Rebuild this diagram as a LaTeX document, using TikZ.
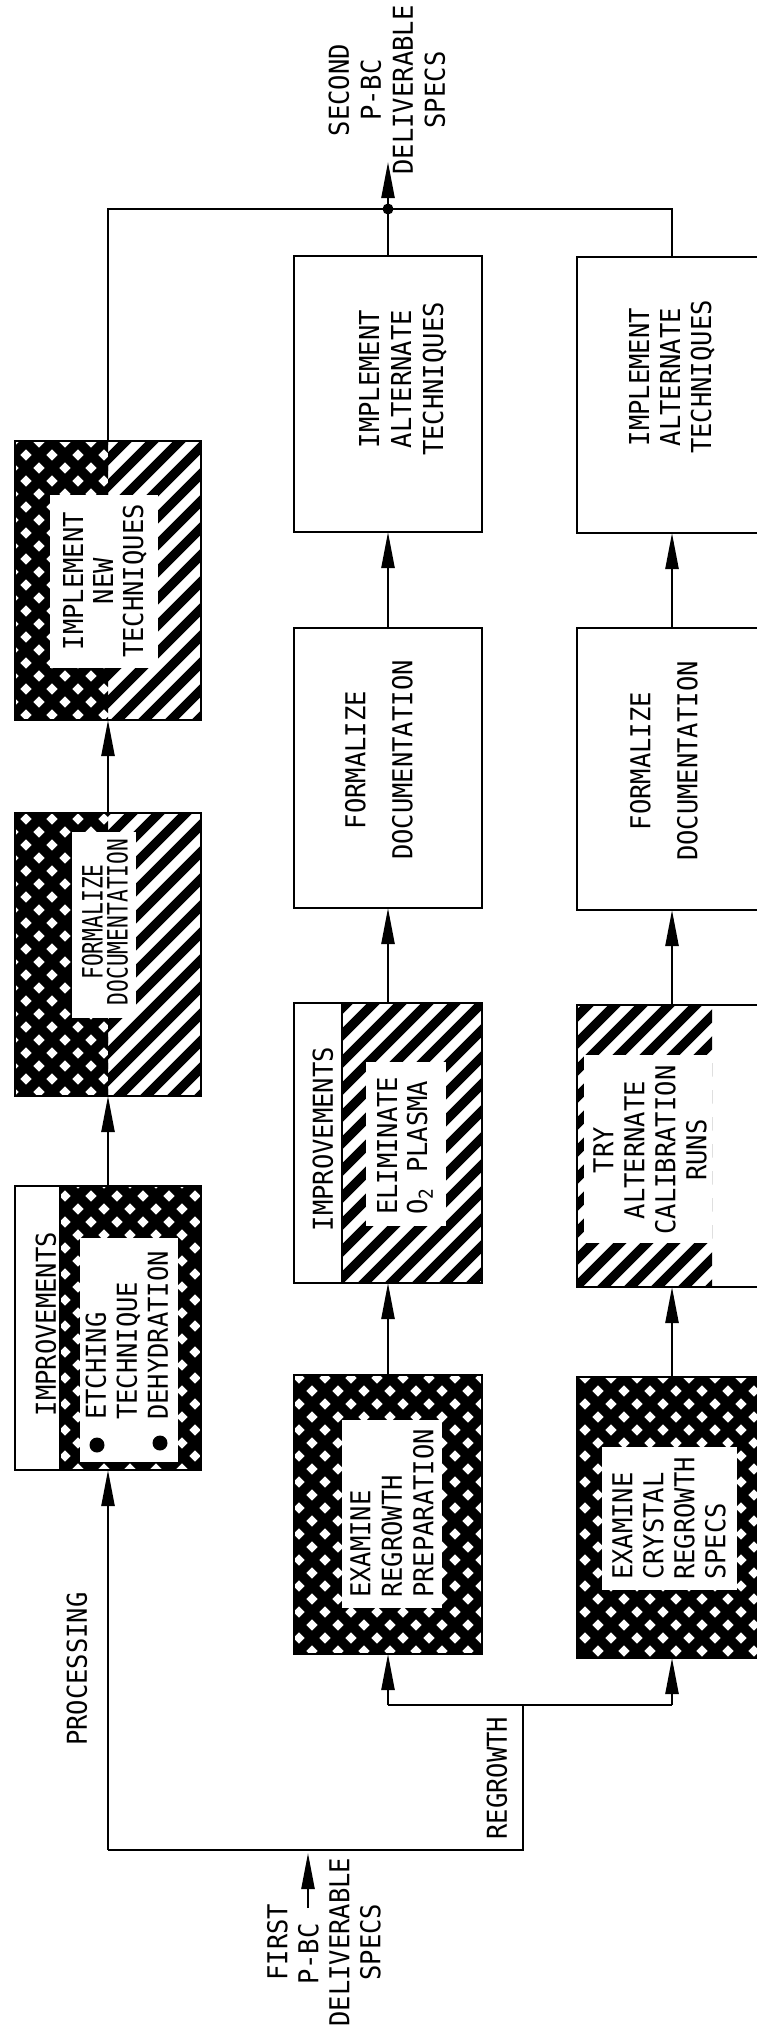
\documentclass[tikz,border=0pt]{standalone}
\usepackage{fontspec}
\setmainfont{DejaVu Sans Mono}
\newfontfamily\lettr[FakeStretch=0.93]{DejaVu Sans Mono}
\newfontfamily\lettrc[FakeStretch=0.76]{DejaVu Sans Mono}
\usetikzlibrary{arrows.meta}

\newcommand\crossfill[4]{%
 \begin{scope}
  \clip (#1,#2) rectangle (#3,#4);
  \pgfmathtruncatemacro\nn{((#3-#1)+(#4-#2))/26+3}%
  \pgfmathtruncatemacro\ka{floor((#1-#4)/26)-1}%
  \foreach \k in {0,...,\nn}{%
    \pgfmathsetmacro\hc{26*(\ka+\k)}%
    \draw[line width=10pt] (\hc+#2-40,#2-40) -- (\hc+#4+40,#4+40);
  }%
  \pgfmathtruncatemacro\kb{floor((#1+#2)/26)-1}%
  \foreach \k in {0,...,\nn}{%
    \pgfmathsetmacro\hc{26*(\kb+\k)}%
    \draw[line width=10pt] (\hc-#2+40,#2-40) -- (\hc-#4-40,#4+40);
  }%
 \end{scope}}

\newcommand\hatchfill[4]{%
 \begin{scope}
  \clip (#1,#2) rectangle (#3,#4);
  \pgfmathtruncatemacro\nn{((#3-#1)+(#4-#2))/27+3}%
  \pgfmathtruncatemacro\kb{floor((#1+#2)/27)-1}%
  \foreach \k in {0,...,\nn}{%
    \pgfmathsetmacro\hc{27*(\kb+\k)}%
    \draw[line width=9.5pt] (\hc-#2+40,#2-40) -- (\hc-#4-40,#4+40);
  }%
 \end{scope}}

\tikzset{
  boxnode/.style={draw, line width=2.6pt, inner sep=0pt, outer sep=0pt},
  txt/.style={font={\lettr\fontsize{27.4pt}{31pt}\selectfont}, align=center, inner sep=0pt, rotate=90},
  conn/.style={line width=2.4pt},
  arr/.style={line width=2.4pt, -{Triangle[length=36pt,width=13pt]}},
  whitebg/.style={fill=white}
}

\begin{document}
\begin{tikzpicture}[x=1pt,y=-1pt]
\useasboundingbox (0,0) rectangle (757,2031);
\clip (0,0) rectangle (757,2031);
\fill[white] (0,0) rectangle (757,2031);

% ---------- patterns ----------
\crossfill{15}{441}{108}{720}
\hatchfill{108}{441}{201}{720}
\crossfill{15}{813}{108}{1096}
\hatchfill{108}{813}{201}{1096}
\crossfill{60}{1186}{201}{1470}
\hatchfill{342}{1003}{482}{1283}
\crossfill{294}{1375}{482}{1654}
\hatchfill{577}{1005}{712}{1287}
\crossfill{577}{1377}{767}{1658}

% ---------- white text areas ----------
\fill[whitebg] (50,495) rectangle (158,668);
\fill[whitebg] (72,832) rectangle (136,1018);
\fill[whitebg] (80,1238) rectangle (178,1462);
\fill[whitebg] (366,1062) rectangle (446,1226);
\fill[whitebg] (342,1420) rectangle (442,1608);
\fill[whitebg] (584,1055) rectangle (712,1243);
\fill[whitebg] (602,1447) rectangle (737,1590);

% ---------- boxes ----------
\node[boxnode, minimum width=186pt, minimum height=279pt] (L1) at (108,580.5) {};
\node[boxnode, minimum width=186pt, minimum height=283pt] (L2) at (108,954.5) {};
\node[boxnode, minimum width=186pt, minimum height=284pt] (L3) at (108,1328) {};
\node[boxnode, minimum width=188pt, minimum height=276pt] (M1) at (388,394) {};
\node[boxnode, minimum width=188pt, minimum height=280pt] (M2) at (388,768) {};
\node[boxnode, minimum width=188pt, minimum height=280pt] (M3) at (388,1143) {};
\node[boxnode, minimum width=188pt, minimum height=279pt] (M4) at (388,1514.5) {};
\node[boxnode, minimum width=190pt, minimum height=276pt] (R1) at (672,395) {};
\node[boxnode, minimum width=190pt, minimum height=282pt] (R2) at (672,769) {};
\node[boxnode, minimum width=190pt, minimum height=282pt] (R3) at (672,1146) {};
\node[boxnode, minimum width=190pt, minimum height=281pt] (R4) at (672,1517.5) {};

% strip dividers
\draw[line width=2.2pt] (L3.north west -| 60,0) -- (L3.south west -| 60,0);
\draw[line width=2.2pt] (M3.north west -| 342,0) -- (M3.south west -| 342,0);

% ---------- texts ----------
\node[txt, font={\lettr\fontsize{27.4pt}{32pt}\selectfont}] (tSEC) at (387,90) {SECOND\\P-BC\\DELIVERABLE\\SPECS};
\node[txt, font={\lettr\fontsize{27.4pt}{30pt}\selectfont}] (tL1) at (105,581) {IMPLEMENT\\NEW\\TECHNIQUES};
\node[txt, font={\lettrc\fontsize{28pt}{25pt}\selectfont}] (tL2) at (105,922) {FORMALIZE\\DOCUMENTATION};
\node[txt] (tL3a) at (46,1324) {IMPROVEMENTS};
\node[txt, align=left, anchor=west] (tL3) at (127,1420) {ETCHING\\TECHNIQUE\\DEHYDRATION};
\fill (97,1445) circle[radius=7.5pt];
\fill (160,1443) circle[radius=7.5pt];
\node[txt, font={\lettr\fontsize{27.4pt}{32pt}\selectfont}] (tM1) at (403,379) {IMPLEMENT\\ALTERNATE\\TECHNIQUES};
\node[txt, font={\lettr\fontsize{27.4pt}{47pt}\selectfont}] (tM2) at (379,760) {FORMALIZE\\DOCUMENTATION};
\node[txt] (tM3a) at (323,1139) {IMPROVEMENTS};
\node[txt, align=left, anchor=west, font={\lettr\fontsize{27.4pt}{30pt}\selectfont}] (tM3) at (405,1215) {ELIMINATE\\O\textsubscript{2} PLASMA};
\node[txt, align=left, anchor=west, font={\lettr\fontsize{27.4pt}{31.5pt}\selectfont}] (tM4) at (392,1598) {EXAMINE\\REGROWTH\\PREPARATION};
\node[txt] (tR1) at (672,377) {IMPLEMENT\\ALTERNATE\\TECHNIQUES};
\node[txt, font={\lettr\fontsize{27.4pt}{47pt}\selectfont}] (tR2) at (664,761) {FORMALIZE\\DOCUMENTATION};
\node[txt] (tR3) at (650,1150) {TRY\\ALTERNATE\\CALIBRATION\\RUNS};
\node[txt, align=left, anchor=west] (tR4) at (669,1580) {EXAMINE\\CRYSTAL\\REGROWTH\\SPECS};
\node[txt] (tPROC) at (77,1669) {PROCESSING};
\node[txt] (tREG) at (497,1778) {REGROWTH};
\node[txt] (tFIRST) at (324,1942) {FIRST\\P-BC\rule{24pt}{0pt}\\DELIVERABLE\\SPECS};

% ---------- connectors ----------
\coordinate (TL) at (108,209);
\coordinate (J) at (388,209);
\coordinate (TR) at (672,209);
\coordinate (OUT) at (388,162);
\draw[conn] (L1.north) -- (TL) -- (TR) -- (R1.north);
\draw[conn] (M1.north) -- (J);
\draw[arr] (J) -- (OUT);
\fill (J) circle[radius=5.5pt];

\draw[arr] (L2.north) -- (L1.south);
\draw[arr] (L3.north) -- (L2.south);
\draw[arr] (M2.north) -- (M1.south);
\draw[arr] (M3.north) -- (M2.south);
\draw[arr] (M4.north) -- (M3.south);
\draw[arr] (R2.north) -- (R1.south);
\draw[arr] (R3.north) -- (R2.south);
\draw[arr] (R4.north) -- (R3.south);

\coordinate (BL) at (108,1850);
\coordinate (BR) at (523,1850);
\coordinate (RG) at (523,1705);
\coordinate (RGL) at (388,1705);
\coordinate (RGR) at (672,1705);
\draw[arr] (BL) -- (L3.south);
\draw[conn] (BL) -- (BR) -- (RG);
\draw[conn] (RGL) -- (RGR);
\draw[arr] (RGL) -- (M4.south);
\draw[arr] (RGR) -- (R4.south);

\coordinate (FA) at (308,1908);
\coordinate (FB) at (308,1853);
\draw[arr] (FA) -- (FB);
\end{tikzpicture}
\end{document}
